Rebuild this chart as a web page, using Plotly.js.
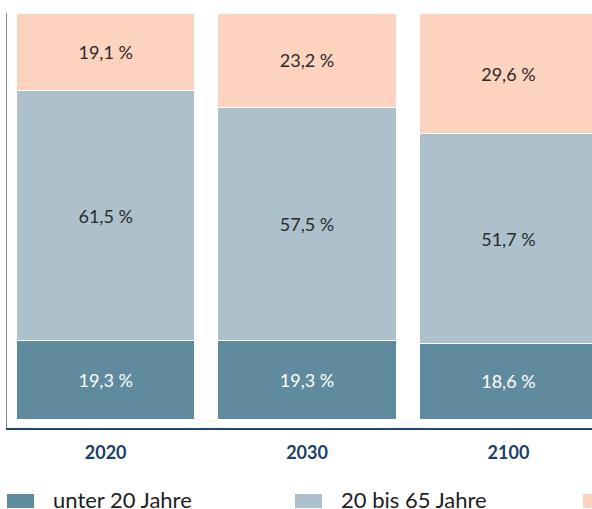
<!DOCTYPE html>
<html>
<head>
<meta charset="utf-8">
<script src="https://cdn.plot.ly/plotly-3.0.1.min.js"></script>
<style>html,body{margin:0;padding:0;background:#fff;}#chart{width:592px;height:509px;}</style>
</head>
<body>
<div id="chart"></div>
<script>
const years = ['2020', '2030', '2100'];
const seriesNames = ['unter 20 Jahre', '20 bis 65 Jahre', 'über 65 Jahre'];
const under20 = [19.3, 19.3, 18.6];
const age20to65 = [61.5, 57.5, 51.7];
const over65 = [19.1, 23.2, 29.6];

const colors = ['#608b9e', '#adc1cc', '#fcd3bf'];
const textColors = ['#ffffff', '#2a2a2a', '#2a2a2a'];
const values = [under20, age20to65, over65];

const traces = values.map((v, i) => ({
  type: 'bar',
  x: years,
  y: v,
  name: seriesNames[i],
  marker: {color: colors[i], line: {color: '#ffffff', width: 1}},
  texttemplate: '%{y:.1f} %',
  textposition: 'inside',
  insidetextanchor: 'middle',
  textfont: {family: 'Lato, sans-serif', size: 18, color: textColors[i]},
  hoverinfo: 'skip',
  showlegend: false
}));

// plot area in pixels: x 7..592, y 13..428
const L = 7, W = 585, T = 13, H = 415;
const px = x => (x - L) / W;
const py = y => (T + H - y) / H;

const legendX = [7, 295, 583];
const shapes = [], annotations = [];
seriesNames.forEach((n, i) => {
  shapes.push({
    type: 'rect', xref: 'paper', yref: 'paper', layer: 'above',
    x0: px(legendX[i]), x1: px(legendX[i] + 27),
    y0: py(508), y1: py(494),
    fillcolor: colors[i], line: {width: 0}
  });
  annotations.push({
    xref: 'paper', yref: 'paper', showarrow: false,
    x: px(legendX[i] + 44), xanchor: 'left',
    y: py(499.5), yanchor: 'middle',
    text: n,
    font: {family: 'Lato, sans-serif', size: 22, color: '#1e1e1e'}
  });
});

const layout = {
  width: 592, height: 509,
  margin: {l: L, r: 0, t: T, b: 509 - T - H},
  barmode: 'stack',
  bargap: 0.114,
  separators: ',.',
  paper_bgcolor: '#ffffff',
  plot_bgcolor: '#ffffff',
  font: {family: 'Lato, sans-serif', color: '#222'},
  xaxis: {
    type: 'category',
    range: [-0.49, 2.415],
    showline: true, linecolor: '#1f4670', linewidth: 2,
    ticks: 'outside', ticklen: 7, tickcolor: 'rgba(0,0,0,0)',
    tickfont: {family: 'Lato, sans-serif', size: 18, color: '#183f69', weight: 'bold'},
    showgrid: false, zeroline: false, fixedrange: true
  },
  yaxis: {
    range: [-2.2, 100],
    showline: true, linecolor: '#7d90a6', linewidth: 1,
    showticklabels: false, ticks: '',
    showgrid: false, zeroline: false, fixedrange: true
  },
  showlegend: false,
  shapes: shapes,
  annotations: annotations
};

Plotly.newPlot('chart', traces, layout, {displayModeBar: false, staticPlot: true});
</script>
</body>
</html>
